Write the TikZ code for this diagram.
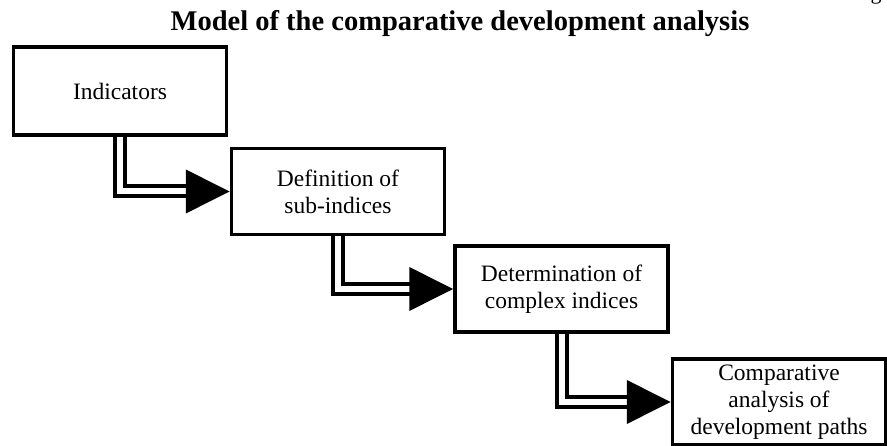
\documentclass[tikz,border=0pt]{standalone}
\usepackage{fontspec}
\setmainfont{Liberation Serif}
\usepackage{tikz}
\usetikzlibrary{arrows.meta, calc}
\tikzstyle{stage} = [draw, line width=3.5pt, minimum width=213pt, minimum height=86pt, align=center, font=\fontsize{23.5}{27}\selectfont, inner sep=0pt]
\tikzstyle{dblarrow} = [double, double distance=6pt, line width=4pt, -{Triangle[length=44pt, width=43pt]}]

\begin{document}
\begin{tikzpicture}[x=1pt, y=-1pt]
    \useasboundingbox (0, 0) rectangle (887, 446);
    \clip (0, 0) rectangle (887, 446);

    % Title
    \node[font=\fontsize{28.5}{32}\selectfont\bfseries] (title) at (460, 24) {Model of the comparative development analysis};
    \node[anchor=base, font=\fontsize{22}{26}\selectfont] (figlabel) at (876, 0) {g};

    % Stages
    \node[stage, minimum height=88pt] (indicators) at (120, 91) {Indicators};
    \node[stage] (subindices) at (338, 191.5) {Definition of\\sub-indices};
    \node[stage] (complex) at (561.5, 289) {Determination of\\complex indices};
    \node[stage] (paths) at (779, 402) {Comparative\\analysis of\\development paths};

    % Arrows
    \draw[dblarrow] (indicators.south) |- (subindices.west);
    \draw[dblarrow] (subindices.south) |- (complex.west);
    \draw[dblarrow] (complex.south) |- (paths.west);
\end{tikzpicture}
\end{document}
